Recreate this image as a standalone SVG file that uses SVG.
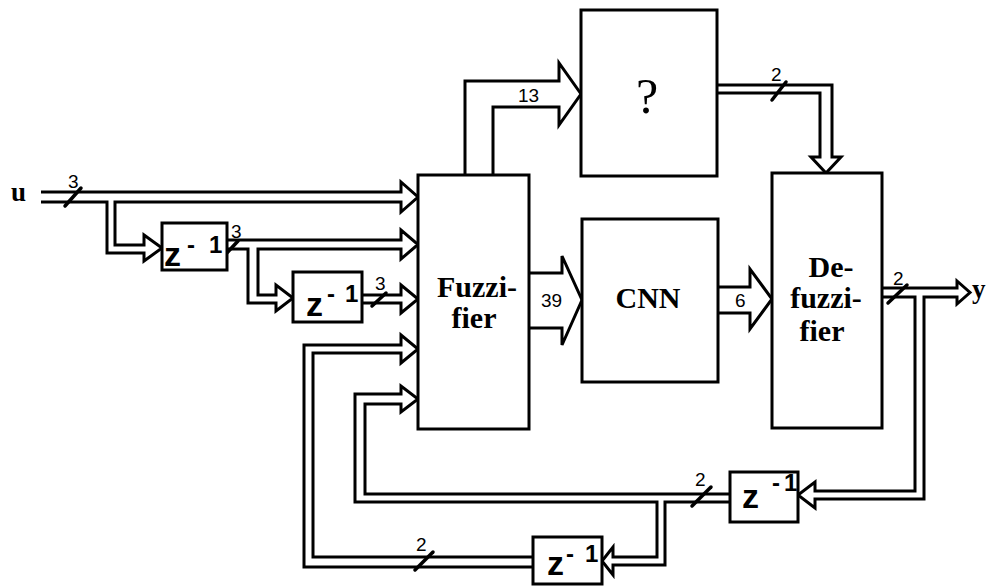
<svg xmlns="http://www.w3.org/2000/svg" width="990" height="586" viewBox="0 0 990 586">
<style>
.box{fill:#fff;stroke:#000;stroke-width:3}
.ch{fill:none;stroke:#000;stroke-width:3;stroke-linejoin:miter}
.sl{stroke:#000;stroke-width:3.5;stroke-linecap:round}
.lbl{font-family:"Liberation Sans",Arial,sans-serif;font-size:19px;fill:#000}
.big{font-family:"Liberation Serif","Times New Roman",serif;font-weight:bold;font-size:30px;fill:#000;text-anchor:middle}
.io{font-family:"Liberation Serif","Times New Roman",serif;font-weight:bold;font-size:27px;fill:#000}
.z{font-family:"Liberation Sans",Arial,sans-serif;font-weight:bold;font-size:34px;fill:#000}
.zs{font-family:"Liberation Sans",Arial,sans-serif;font-weight:bold;font-size:24px;fill:#000}
</style>
<rect width="990" height="586" fill="#fff"/>
<g id="connectors">
<path class="ch" d="M41,192 H401 V182 L418,197 L401,212 V202 H115 V245 H144 V235 L162,248 L144,261 V253 H107 V202 H41"/>
<path class="ch" d="M227,240 H401 V230 L418,244.5 L401,259 V249 H258 V295 H276 V285 L293,298 L276,311 V303 H248 V249 H227"/>
<path class="ch" d="M362,295 H401 V285 L418,299 L401,313 V303 H362"/>
<path class="ch" d="M533,557 H313 V353 H401 V363 L418,349 L401,335 V345 H304 V567 H533"/>
<path class="ch" d="M730,494 H365 V404 H401 V412 L418,399 L401,386 V394 H355 V502 H657 V557 H613 V547 L602,561 L613,575 V565 H665 V502 H730"/>
<path class="ch" d="M882,288 H957 V281 L970,292.5 L957,304 V297 H924 V499 H815 V508 L798,495 L815,482 V491 H915 V297 H882"/>
<path class="ch" d="M465,175 V81 H559 V63 L581,94 L559,125 V107 H493 V175"/>
<path class="ch" d="M717,85 H832 V157 H841 L826,173 L811,157 H820 V93 H717"/>
<path class="ch" d="M529,273 H562 V256 L582,300 L562,345 V328 H529"/>
<path class="ch" d="M718,287 H750 V269 L772,299 L750,329 V313 H718"/>
<line class="sl" x1="65" y1="206" x2="81" y2="188"/>
<line class="sl" x1="225" y1="255" x2="238" y2="241"/>
<line class="sl" x1="372" y1="306" x2="386" y2="293"/>
<line class="sl" x1="772" y1="100" x2="786" y2="82"/>
<line class="sl" x1="888" y1="303" x2="907" y2="285"/>
<line class="sl" x1="692" y1="506" x2="711" y2="487"/>
<line class="sl" x1="415" y1="570" x2="433" y2="552"/>
<text class="lbl" x="68" y="188">3</text>
<text class="lbl" x="231" y="238">3</text>
<text class="lbl" x="375" y="290">3</text>
<text class="lbl" x="771" y="81">2</text>
<text class="lbl" x="893" y="285">2</text>
<text class="lbl" x="695" y="486">2</text>
<text class="lbl" x="416" y="551">2</text>
<text class="lbl" x="518" y="102">13</text>
<text class="lbl" x="541" y="307">39</text>
<text class="lbl" x="735" y="307">6</text>
</g>
<g id="input-u"><text class="io" x="11" y="201">u</text></g>
<g id="output-y"><text class="io" x="972" y="298">y</text></g>
<g id="fuzzifier">
<rect class="box" x="418" y="175" width="111" height="254"/>
<text class="big" x="477" y="297">Fuzzi-</text>
<text class="big" x="474" y="328">fier</text>
</g>
<g id="unknown">
<rect class="box" x="581" y="10" width="136" height="166"/>
<text x="647" y="113" style="font-family:'Liberation Serif',serif;font-size:50px;text-anchor:middle">?</text>
</g>
<g id="cnn">
<rect class="box" x="582" y="219" width="136" height="163"/>
<text class="big" x="648" y="308">CNN</text>
</g>
<g id="defuzzifier">
<rect class="box" x="772" y="173" width="110" height="255"/>
<text class="big" x="831" y="277">De-</text>
<text class="big" x="826" y="308">fuzzi-</text>
<text class="big" x="822" y="341">fier</text>
</g>
<g id="delay-u1">
<rect class="box" x="162" y="223" width="65" height="47"/>
<text class="z" x="164" y="266">z</text>
<text class="zs" x="187" y="253">-</text>
<text class="zs" x="209" y="253">1</text>
</g>
<g id="delay-u2">
<rect class="box" x="293" y="272" width="69" height="50"/>
<text class="z" x="306" y="316">z</text>
<text class="zs" x="327" y="302">-</text>
<text class="zs" x="345" y="302">1</text>
</g>
<g id="delay-y1">
<rect class="box" x="730" y="472" width="68" height="50"/>
<text class="z" x="742" y="508">z</text>
<text class="zs" x="772" y="491">-</text>
<text class="zs" x="784" y="491">1</text>
</g>
<g id="delay-y2">
<rect class="box" x="533" y="537" width="69" height="47"/>
<text class="z" x="547" y="575">z</text>
<text class="zs" x="566" y="562">-</text>
<text class="zs" x="585" y="562">1</text>
</g>
</svg>
